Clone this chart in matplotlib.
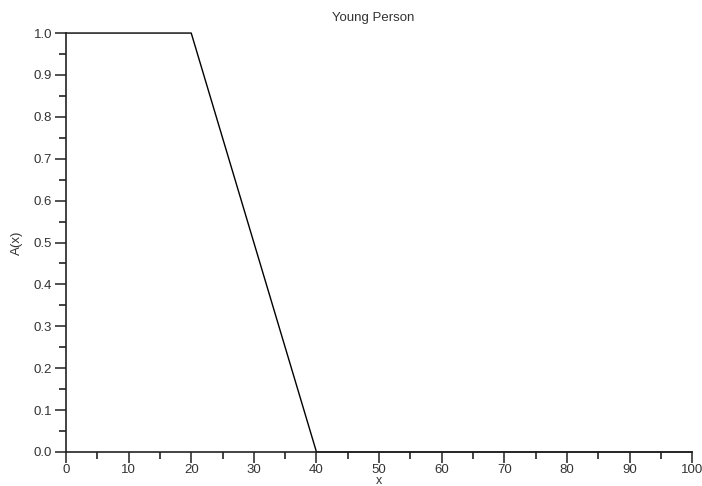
import matplotlib
matplotlib.use("Agg")
import matplotlib.pyplot as plt
from matplotlib.ticker import MultipleLocator

# membership function of "young person"
age = [0, 20, 40, 100]
membership = [1.0, 1.0, 0.0, 0.0]

plt.rcParams["font.family"] = ["Liberation Sans", "DejaVu Sans"]

fig = plt.figure(figsize=(7.02, 4.86), dpi=100)
ax = fig.add_axes([0.094, 0.070, 0.892, 0.862])

ax.plot(age, membership, color="black", lw=1.0, clip_on=False)

ax.set_xlim(0, 100)
ax.set_ylim(0, 1)
ax.xaxis.set_major_locator(MultipleLocator(10))
ax.xaxis.set_minor_locator(MultipleLocator(5))
ax.yaxis.set_major_locator(MultipleLocator(0.1))
ax.yaxis.set_minor_locator(MultipleLocator(0.05))
ax.yaxis.set_major_formatter(lambda v, p: f"{v:.1f}")

for s in ("top", "right"):
    ax.spines[s].set_visible(False)
for s in ("left", "bottom"):
    ax.spines[s].set_linewidth(1.2)
    ax.spines[s].set_color("#222222")

ax.tick_params(which="major", direction="out", length=8, width=1.2,
               labelsize=9.5, colors="#333333", pad=2)
ax.tick_params(axis="x", which="major", pad=1)
ax.tick_params(which="minor", direction="out", length=5, width=1.2,
               colors="#222222")

ax.set_title("Young Person", fontsize=9.5, color="#333333", pad=9, x=0.49)
# x label sits right at the lower edge, as in the original
fig.text(0.54, 0.004, "x", fontsize=9, color="#333333",
         ha="center", va="baseline")
ax.set_ylabel("A(x)", fontsize=9.5, color="#333333", labelpad=8)

fig.savefig("out.png", dpi=100)
